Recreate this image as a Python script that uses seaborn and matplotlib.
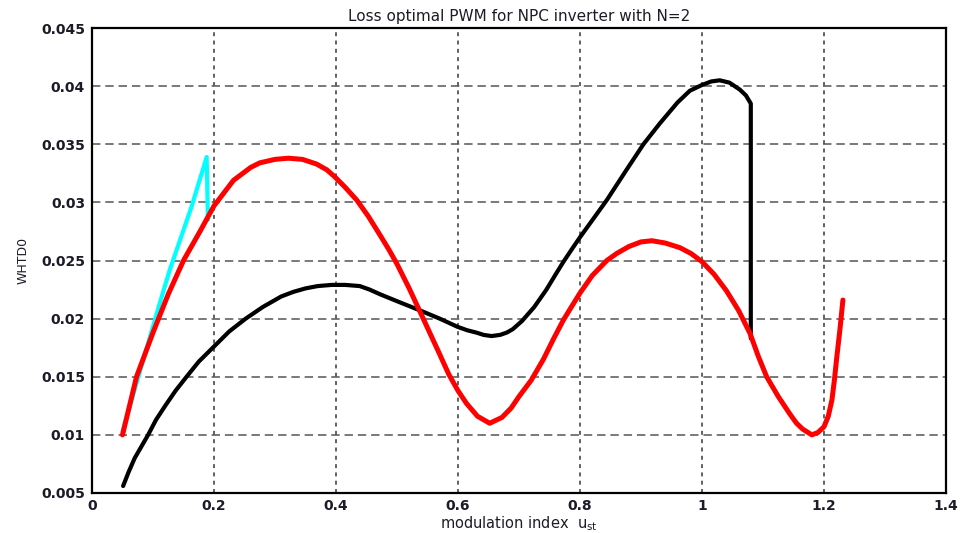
import numpy as np
import pandas as pd
import seaborn as sns
import matplotlib.pyplot as plt

# values
black_x = [0.051, 0.060, 0.070, 0.081, 0.092, 0.105, 0.120, 0.137, 0.155, 0.175, 0.200, 0.225,
           0.252, 0.280, 0.310, 0.330, 0.350, 0.370, 0.393, 0.415, 0.439, 0.455, 0.472, 0.500,
           0.538, 0.570, 0.599, 0.615, 0.630, 0.642, 0.655, 0.669, 0.680, 0.690, 0.705, 0.725,
           0.745, 0.760, 0.773, 0.787, 0.800, 0.822, 0.844, 0.875, 0.904, 0.931, 0.960, 0.980,
           1.000, 1.015, 1.029, 1.045, 1.062, 1.072, 1.080, 1.080]
black_y = [0.0056, 0.0068, 0.0080, 0.0090, 0.0100, 0.0113, 0.0125, 0.0138, 0.0150, 0.0163, 0.0176, 0.0189,
           0.0200, 0.0210, 0.0219, 0.0223, 0.0226, 0.0228, 0.0229, 0.0229, 0.0228, 0.0225, 0.0221, 0.0215,
           0.0207, 0.0200, 0.0193, 0.0190, 0.0188, 0.0186, 0.0185, 0.0186, 0.0188, 0.0191, 0.0198, 0.0210,
           0.0225, 0.0238, 0.0249, 0.0260, 0.0270, 0.0286, 0.0302, 0.0327, 0.0350, 0.0368, 0.0386, 0.0396,
           0.0401, 0.0404, 0.0405, 0.0403, 0.0397, 0.0392, 0.0385, 0.0183]

cyan_x = [0.050, 0.1115, 0.1275, 0.163, 0.188, 0.190]
cyan_y = [0.0103, 0.0214, 0.0242, 0.0296, 0.0339, 0.0285]

red_x = [0.050, 0.073, 0.100, 0.125, 0.150, 0.177, 0.200, 0.232, 0.260, 0.275, 0.300, 0.322,
         0.345, 0.368, 0.385, 0.398, 0.415, 0.434, 0.453, 0.472, 0.486, 0.500, 0.520, 0.543,
         0.565, 0.585, 0.600, 0.614, 0.632, 0.652, 0.672, 0.687, 0.700, 0.720, 0.740, 0.757,
         0.773, 0.787, 0.800, 0.820, 0.844, 0.860, 0.880, 0.900, 0.918, 0.940, 0.964, 0.982,
         1.000, 1.020, 1.040, 1.060, 1.079, 1.092, 1.106, 1.125, 1.144, 1.155, 1.165, 1.180,
         1.190, 1.200, 1.207, 1.213, 1.217, 1.221, 1.226, 1.231]
red_y = [0.0100, 0.0150, 0.0188, 0.0221, 0.0250, 0.0275, 0.0297, 0.0319, 0.0330, 0.0334, 0.0337, 0.0338,
         0.0337, 0.0333, 0.0328, 0.0322, 0.0313, 0.0302, 0.0288, 0.0272, 0.0260, 0.0247, 0.0226, 0.0200,
         0.0175, 0.0152, 0.0138, 0.0127, 0.0116, 0.0110, 0.0115, 0.0123, 0.0133, 0.0147, 0.0165, 0.0183,
         0.0199, 0.0211, 0.0222, 0.0237, 0.0250, 0.0256, 0.0262, 0.0266, 0.0267, 0.0265, 0.0261, 0.0256,
         0.0249, 0.0238, 0.0224, 0.0207, 0.0187, 0.0168, 0.0150, 0.0133, 0.0118, 0.0110, 0.0105, 0.0100,
         0.0102, 0.0107, 0.0116, 0.0130, 0.0147, 0.0167, 0.0190, 0.0216]

x_ticks = [0, 0.2, 0.4, 0.6, 0.8, 1, 1.2, 1.4]
y_ticks = [0.005, 0.01, 0.015, 0.02, 0.025, 0.03, 0.035, 0.04, 0.045]

sns.set_style("white")
plt.rcParams['font.family'] = ['DejaVu Sans']

fig = plt.figure(figsize=(9.61, 5.33), dpi=100)
ax = fig.add_axes([92 / 961, 40 / 533, 854 / 961, 465 / 533])

# draw order: black under cyan under red
sns.lineplot(x=black_x, y=black_y, sort=False, estimator=None, color="black", lw=3.0, ax=ax)
sns.lineplot(x=cyan_x, y=cyan_y, sort=False, estimator=None, color="#00ffff", lw=3.0, ax=ax)
sns.lineplot(x=red_x, y=red_y, sort=False, estimator=None, color="#ff0000", lw=3.6, ax=ax)
for ln in ax.get_lines():
    ln.set_solid_joinstyle("round")

ax.set_xlim(0, 1.4)
ax.set_ylim(0.005, 0.045)
ax.set_xticks(x_ticks)
ax.set_yticks(y_ticks)
ax.set_xticklabels(["0", "0.2", "0.4", "0.6", "0.8", "1", "1.2", "1.4"])
ax.set_yticklabels(["0.005", "0.01", "0.015", "0.02", "0.025", "0.03", "0.035", "0.04", "0.045"])
ax.tick_params(axis="both", direction="in", length=4, width=1, labelsize=10, colors="black")
ax.tick_params(axis="y", pad=5)
ax.tick_params(axis="x", pad=4)
for lab in ax.get_xticklabels() + ax.get_yticklabels():
    lab.set_fontweight("bold")
    lab.set_color("#1c1c28")

# matlab style grid: long dashes horizontal, short ones vertical
ax.grid(True)
for gl in ax.get_ygridlines():
    gl.set_color("#555555")
    gl.set_linewidth(1.1)
    gl.set_dashes((5.5, 3.2))
for gl in ax.get_xgridlines():
    gl.set_color("#555555")
    gl.set_linewidth(1.3)
    gl.set_dashes((2.2, 2.4))
ax.set_axisbelow(True)

for sp in ax.spines.values():
    sp.set_color("black")
    sp.set_linewidth(1.6)
    sp.set_visible(True)

ax.set_title("Loss optimal PWM for NPC inverter with N=2", fontsize=11, color="#1c1c28", pad=5)
ax.set_xlabel(r"modulation index  u$_{\mathrm{st}}$", fontsize=10.5, color="#1c1c28", labelpad=1)
ax.set_ylabel("WHTD0", fontsize=9, color="#1c1c28", labelpad=8)

fig.savefig("out.png", dpi=100)
